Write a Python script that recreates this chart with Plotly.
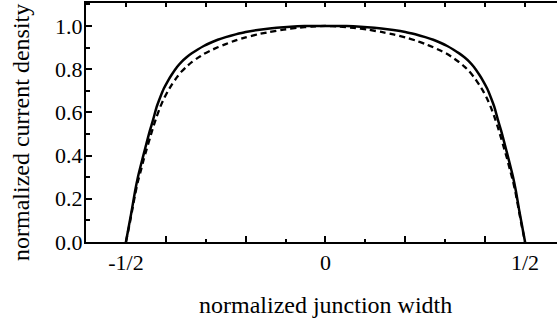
import plotly.graph_objects as go

# x positions (normalized junction width)
x_vals = [-0.5, -0.495, -0.49, -0.485, -0.477, -0.47, -0.462, -0.455, -0.448, -0.44,
          -0.432, -0.423, -0.414, -0.405, -0.395, -0.385, -0.372, -0.36, -0.348, -0.335,
          -0.32, -0.305, -0.288, -0.27, -0.25, -0.225, -0.2, -0.17, -0.14, -0.105,
          -0.07, -0.035, 0.0,
          0.035, 0.07, 0.105, 0.14, 0.17, 0.2, 0.225, 0.25, 0.27, 0.288,
          0.305, 0.32, 0.335, 0.348, 0.36, 0.372, 0.385, 0.395, 0.405, 0.414,
          0.423, 0.432, 0.44, 0.448, 0.455, 0.462, 0.47, 0.477, 0.485, 0.49,
          0.495, 0.5]

# solid curve
solid_y = [0.0, 0.05, 0.10, 0.15, 0.236, 0.30, 0.36, 0.41, 0.46, 0.515,
           0.565, 0.625, 0.67, 0.71, 0.745, 0.775, 0.81, 0.835, 0.855, 0.873,
           0.891, 0.907, 0.922, 0.936, 0.948, 0.961, 0.972, 0.981, 0.988, 0.994,
           0.998, 1.0, 1.0,
           1.0, 0.998, 0.994, 0.988, 0.981, 0.972, 0.961, 0.948, 0.936, 0.922,
           0.907, 0.891, 0.873, 0.855, 0.835, 0.81, 0.775, 0.745, 0.71, 0.67,
           0.625, 0.565, 0.515, 0.46, 0.41, 0.36, 0.30, 0.236, 0.15, 0.10,
           0.05, 0.0]

# dashed curve
dashed_y = [0.0, 0.045, 0.09, 0.14, 0.22, 0.28, 0.335, 0.385, 0.43, 0.48,
            0.53, 0.58, 0.625, 0.663, 0.698, 0.728, 0.763, 0.79, 0.812, 0.832,
            0.852, 0.87, 0.886, 0.901, 0.916, 0.933, 0.947, 0.961, 0.972, 0.983,
            0.991, 0.997, 1.0,
            0.997, 0.991, 0.983, 0.972, 0.961, 0.947, 0.933, 0.916, 0.901, 0.886,
            0.87, 0.852, 0.832, 0.812, 0.79, 0.763, 0.728, 0.698, 0.663, 0.625,
            0.58, 0.53, 0.48, 0.43, 0.385, 0.335, 0.28, 0.22, 0.14, 0.09,
            0.045, 0.0]

x_label_vals = [-0.5, 0.0, 0.5]
x_label_text = ["-1/2", "0", "1/2"]
x_major_ticks = [-0.4, -0.2, 0.0, 0.2, 0.4]
x_minor_ticks = [-0.3, -0.1, 0.1, 0.3]
x_top_ticks = [-0.5, -0.4, -0.3, -0.2, -0.1, 0.0, 0.1, 0.2, 0.3, 0.4, 0.5]
x_title = "normalized junction width"
y_title = "normalized current density"

FONT = "Liberation Serif, Times New Roman, serif"

fig = go.Figure()
fig.add_trace(go.Scatter(x=x_vals, y=dashed_y, mode="lines",
                         line=dict(color="black", width=2.3, dash="6px,4px", shape="spline", smoothing=0.4),
                         showlegend=False, hoverinfo="skip"))
fig.add_trace(go.Scatter(x=x_vals, y=solid_y, mode="lines",
                         line=dict(color="black", width=2.5, shape="spline", smoothing=0.4),
                         showlegend=False, hoverinfo="skip"))
# dummy traces to activate overlay axes
fig.add_trace(go.Scatter(x=[None], y=[None], xaxis="x2", showlegend=False, hoverinfo="skip"))
fig.add_trace(go.Scatter(x=[None], y=[None], xaxis="x3", showlegend=False, hoverinfo="skip"))

xr = [-0.6, 0.58]
fig.update_layout(
    width=557, height=320,
    margin=dict(l=86, r=0, t=3, b=78),
    paper_bgcolor="white", plot_bgcolor="white",
    font=dict(family=FONT, size=22, color="black"),
    xaxis=dict(range=xr, showgrid=False, zeroline=False,
               showline=True, linewidth=2, linecolor="black",
               tickmode="array", tickvals=x_major_ticks, ticks="inside",
               ticklen=6, tickwidth=2, tickcolor="black", showticklabels=False,
               minor=dict(tickmode="array", tickvals=x_minor_ticks, ticks="inside",
                          ticklen=3, tickwidth=2, tickcolor="black")),
    xaxis2=dict(range=xr, overlaying="x", matches="x", side="bottom", anchor="y",
                showgrid=False, zeroline=False, showline=False,
                tickmode="array", tickvals=x_label_vals, ticktext=x_label_text,
                ticks="", ticklabelstandoff=5, tickfont=dict(size=22)),
    xaxis3=dict(range=xr, overlaying="x", matches="x", side="top", anchor="y",
                showgrid=False, zeroline=False, showline=True, linewidth=2, linecolor="black",
                tickmode="array", tickvals=x_top_ticks, ticks="inside",
                ticklen=4, tickwidth=2, tickcolor="black", showticklabels=False),
    yaxis=dict(range=[0, 1.106], showgrid=False, zeroline=False,
               showline=True, linewidth=2, linecolor="black",
               tickmode="linear", tick0=0, dtick=0.2, tickformat=".1f",
               ticks="inside", ticklen=6, tickwidth=2, tickcolor="black",
               minor=dict(tick0=0.1, dtick=0.1, ticks="inside", ticklen=4, tickwidth=2, tickcolor="black"),
               tickfont=dict(size=22), ticklabelstandoff=-3),
    annotations=[
        dict(text=x_title, xref="paper", yref="paper", x=(325.5 - 86) / 471, y=(242 - 305) / 239,
             xanchor="center", yanchor="middle", showarrow=False, font=dict(size=24)),
        dict(text=y_title, xref="paper", yref="paper", x=(21 - 86) / 471, y=(242 - 133) / 239,
             xanchor="center", yanchor="middle", showarrow=False, textangle=-90, font=dict(size=24)),
    ],
)

fig.write_html("out.html")
